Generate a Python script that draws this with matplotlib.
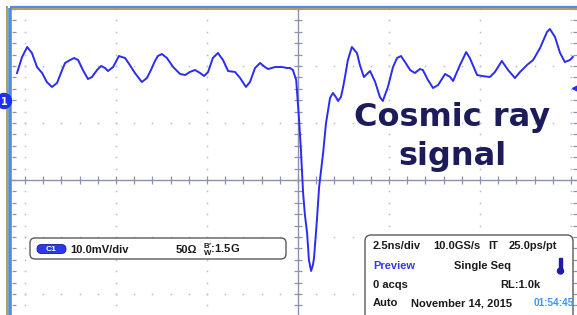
import matplotlib.pyplot as plt
from matplotlib.patches import FancyBboxPatch, Circle, Rectangle

plt.rcParams['mathtext.fontset'] = 'custom'
plt.rcParams['mathtext.bf'] = 'Liberation Sans:bold'
plt.rcParams['mathtext.rm'] = 'Liberation Sans:bold'

# trace: time (ns, trigger at 0) and voltage (mV)
t_ns = [-7.72, -7.58, -7.44, -7.31, -7.17, -7.03, -6.90, -6.76, -6.62, -6.48,
        -6.40, -6.26, -6.15, -6.04, -5.91, -5.77, -5.66, -5.52, -5.41, -5.30,
        -5.22, -5.08, -4.92, -4.75, -4.62, -4.48, -4.29, -4.15, -4.04, -3.93,
        -3.85, -3.74, -3.60, -3.43, -3.24, -3.10, -2.97, -2.83, -2.69, -2.58,
        -2.47, -2.34, -2.20, -2.06, -1.92, -1.73, -1.59, -1.43, -1.32, -1.18,
        -1.04, -0.91, -0.82, -0.63, -0.44, -0.30, -0.22, -0.14, -0.05, -0.03,
        0.03, 0.08, 0.14, 0.19, 0.25, 0.30, 0.36, 0.41, 0.44, 0.52,
        0.58, 0.69, 0.77, 0.88, 0.96, 1.04, 1.10, 1.18, 1.24, 1.29,
        1.37, 1.48, 1.62, 1.70, 1.81, 1.98, 2.12, 2.25, 2.33, 2.47,
        2.61, 2.72, 2.83, 2.94, 3.08, 3.21, 3.35, 3.43, 3.57, 3.71,
        3.85, 4.04, 4.18, 4.26, 4.45, 4.62, 4.72, 4.92, 5.05, 5.27,
        5.41, 5.60, 5.77, 5.96, 6.10, 6.29, 6.46, 6.65, 6.84, 6.92,
        7.06, 7.20, 7.33, 7.47, 7.55]
v_mv = [4.91, 7.72, 9.47, 8.42, 5.96, 4.91, 3.33, 2.46, 3.16, 5.44,
        6.67, 7.19, 7.54, 7.19, 5.44, 3.86, 4.21, 5.44, 6.14, 5.79,
        5.26, 5.96, 7.89, 7.54, 6.31, 4.91, 3.33, 4.03, 5.44, 7.02,
        7.89, 8.24, 7.54, 5.96, 4.74, 4.56, 5.09, 5.44, 4.91, 4.39,
        5.09, 7.54, 8.42, 7.19, 5.26, 5.09, 4.03, 2.46, 3.33, 5.79,
        6.67, 5.96, 5.61, 5.96, 5.96, 5.79, 5.79, 5.44, 3.68, 1.93,
        -3.33, -8.59, -16.14, -20.00, -23.15, -27.89, -29.82, -28.77, -27.54, -20.87,
        -15.08, -9.12, -3.86, 0.53, 1.40, 0.70, 0.00, 0.70, 2.46, 4.21,
        7.19, 9.47, 8.42, 6.31, 4.21, 5.26, 3.33, 0.70, 0.00, 2.46,
        5.96, 7.54, 7.89, 6.84, 5.44, 4.91, 5.61, 5.44, 3.68, 2.28,
        2.81, 4.74, 4.21, 3.51, 6.31, 8.59, 7.54, 4.56, 4.39, 4.21,
        5.09, 7.02, 5.44, 4.03, 5.09, 6.31, 7.19, 9.30, 12.10, 12.63,
        11.23, 8.42, 6.84, 7.19, 7.72]

T_DIV = 2.5        # ns/div
V_DIV = 10.0       # mV/div
V_CENTER = -13.86  # mV on the centre line (ground marker ~1.39 div higher)
PX_X = 91.0        # screen pixels per horizontal division
PX_Y = 57.0        # screen pixels per vertical division

def tx(px):
    return (px - 298) / PX_X * T_DIV

def vy(py):
    return V_CENTER + (180 - py) / PX_Y * V_DIV

fig = plt.figure(figsize=(5.77, 3.15), dpi=100)
ax = fig.add_axes([0, 0, 1, 1])
ax.set_xlim(tx(0), tx(577))
ax.set_ylim(vy(315), vy(0))
ax.axis('off')

dot_c = '#b8bccd'
axis_c = '#8c93b0'

# dotted graticule
v_minor = [V_CENTER + j * V_DIV / 5 for j in range(-12, 16)]
t_minor = [i * T_DIV / 5 for i in range(-15, 16)]
for k in [-3, -2, -1, 1, 2, 3]:
    ax.plot([k * T_DIV] * len(v_minor), v_minor, ls='', marker='s', ms=1.1,
            mew=0, color=dot_c)
for k in [-2, -1, 1, 2]:
    ax.plot(t_minor, [V_CENTER + k * V_DIV] * len(t_minor), ls='', marker='s',
            ms=1.1, mew=0, color=dot_c)

# centre axes with ticks
ax.plot([0, 0], [vy(9), vy(320)], color=axis_c, lw=1.0)
ax.plot([tx(10), tx(580)], [V_CENTER, V_CENTER], color=axis_c, lw=1.0)
ax.plot([0] * len(v_minor), v_minor, ls='', marker='_', ms=6, mew=0.9, color=axis_c)
ax.plot(t_minor, [V_CENTER] * len(t_minor), ls='', marker='|', ms=6, mew=0.9, color=axis_c)

# frame ticks on left and right edges
ax.plot([tx(14)] * len(v_minor), v_minor, ls='', marker='_', ms=3, mew=0.9, color=axis_c)
ax.plot([tx(575)] * len(v_minor), v_minor, ls='', marker='_', ms=3, mew=0.9, color=axis_c)

# frame: top and left bars
ax.plot([tx(10), tx(580)], [vy(6.5), vy(6.5)], color='#4a8fe0', lw=1.6, solid_capstyle='butt')
ax.plot([tx(10), tx(580)], [vy(9), vy(9)], color='#b39a5e', lw=1.4, solid_capstyle='butt')
ax.plot([tx(7), tx(7)], [vy(6), vy(320)], color='#b39a5e', lw=1.4, solid_capstyle='butt')
ax.plot([tx(10), tx(10)], [vy(8), vy(320)], color='#4a8fe0', lw=2.6, solid_capstyle='butt')

# the waveform
ax.plot(t_ns, v_mv, color='#2b2bf2', lw=1.4, zorder=5)

# overlay in screen pixels for the readouts
ov = fig.add_axes([0, 0, 1, 1])
ov.set_xlim(0, 577)
ov.set_ylim(315, 0)
ov.axis('off')

# ground marker and trigger level
ov.add_patch(Circle((4, 101), 7.5, color='#1f2ff0', zorder=6))
ov.text(4.5, 102, '1', color='white', fontsize=7, fontweight='bold', ha='center', va='center', zorder=7)
ov.plot([575], [88], ls='', marker='<', ms=5, color='#2b2bf2')

bold = dict(fontsize=8, fontweight='bold', family='Liberation Sans', va='center', color='#1a1a1a')

# channel box
ov.add_patch(FancyBboxPatch((30, 238), 256, 21, boxstyle='round,pad=0,rounding_size=5',
                            fc='white', ec='#5a5a5a', lw=1.0))
ov.add_patch(FancyBboxPatch((37, 244.5), 29, 9, boxstyle='round,pad=0,rounding_size=4.5',
                            fc='#2a3ae6', ec='#1a1a90', lw=0.6))
ov.text(51.5, 249.3, 'C1', color='white', fontsize=6, fontweight='bold', family='Liberation Sans',
        ha='center', va='center')
ov.text(70, 250, '10.0mV/div', **bold)
ov.text(176, 250, '50Ω', **bold)
ov.text(203, 250, r"${}^{\mathbf{B}\prime}_{\mathbf{W}}$:1.5G", **bold)

# timebase box
ov.add_patch(FancyBboxPatch((365, 235), 208, 95, boxstyle='round,pad=0,rounding_size=6',
                            fc='white', ec='#5a5a5a', lw=1.0))
ov.text(373, 246, '2.5ns/div', **bold)
ov.text(433, 246, '10.0GS/s', **bold)
ov.text(488, 246, 'IT', **bold)
ov.text(509, 246, '25.0ps/pt', **bold)
ov.text(373, 266, 'Preview', **{**bold, 'color': '#3636ee'})
ov.text(454, 266, 'Single Seq', **bold)
ov.text(373, 285, '0 acqs', **bold)
ov.text(500, 285, 'RL:1.0k', **bold)
ov.text(373, 303, 'Auto', **bold)
ov.text(411, 303, 'November 14, 2015', **bold)
ov.text(534, 303, '01:54:45', **{**bold, 'color': '#3a96f5', 'fontsize': 7.2})
ov.add_patch(Rectangle((559, 258), 3, 12, color='#1c1ca8'))
ov.add_patch(Circle((560.5, 271), 3, color='#1c1ca8'))

# annotation
ov.text(452, 126, 'Cosmic ray', ha='center', va='baseline', fontsize=23, fontweight='bold',
        family='DejaVu Sans', color='#1c1c5c')
ov.text(453, 165, 'signal', ha='center', va='baseline', fontsize=23, fontweight='bold',
        family='DejaVu Sans', color='#1c1c5c')

fig.savefig('out.png', dpi=100)
